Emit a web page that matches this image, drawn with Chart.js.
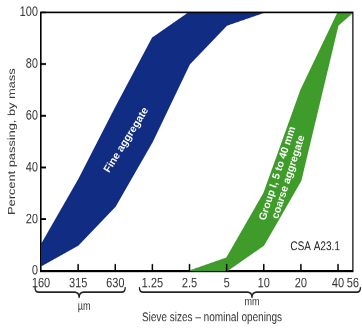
<!DOCTYPE html>
<html>
<head>
<meta charset="utf-8">
<script src="https://cdn.jsdelivr.net/npm/chart.js@4.4.0/dist/chart.umd.min.js"></script>
<style>
  html, body { margin: 0; padding: 0; background: #fff; }
  #page { width: 362px; height: 329px; overflow: hidden; }
  /* the reference picture is stretched vertically, so the chart is drawn flat and scaled */
  #wrap { width: 362px; height: 257px; transform: scaleY(1.28); transform-origin: 0 0; }
</style>
</head>
<body>
<div id="page"><div id="wrap"><canvas id="chart_sieve"></canvas></div></div>
<script>
const STRETCH = 1.28;

// sieve sizes, one step per sieve along x (56 mm is a short half step after 40)
const sieveLabels = ["160", "315", "630", "1.25", "2.5", "5", "10", "20", "40", "56"];
const sieveStep   = [0, 1, 2, 3, 4, 5, 6, 7, 8, 8.4];
const yTicks      = [0, 20, 40, 60, 80, 100];

// fine aggregate band: 160 um .. 10 mm
const fineLower = [2, 10, 25, 50, 80, 95, 100];
const fineUpper = [10, 35, 63, 90, 100, 100, 100];
// coarse aggregate band: 2.5 mm .. 56 mm
const coarseLower = [0, 0, 10, 35, 95, 100];
const coarseUpper = [0, 5, 30, 70, 100, 100];

const FONT = '"Liberation Sans", Arial, sans-serif';
const BLUE = "#112c83";
const GREEN = "#3f9c2b";

function pts(values, start) {
	return values.map((v, i) => ({ x: sieveStep[start + i], y: v }));
}

function band(label, data, color, fill) {
	return {
		label: label,
		data: data,
		borderColor: color,
		backgroundColor: color,
		borderWidth: 1,
		pointRadius: 0,
		tension: 0,
		fill: fill,
	};
}

function drawBrace(ctx, x1, x2, xm, yTop, yMid, yTip) {
	const r = 4;
	ctx.beginPath();
	ctx.moveTo(x1, yTop);
	ctx.quadraticCurveTo(x1, yMid, x1 + r, yMid);
	ctx.lineTo(xm - r, yMid);
	ctx.quadraticCurveTo(xm, yMid, xm, yTip);
	ctx.quadraticCurveTo(xm, yMid, xm + r, yMid);
	ctx.lineTo(x2 - r, yMid);
	ctx.quadraticCurveTo(x2, yMid, x2, yTop);
	ctx.stroke();
}

// rotated label, undoing the page stretch so the letters stay upright on screen
function rotatedText(ctx, lines, x, y, angleDeg, font, color, lineH) {
	ctx.save();
	ctx.translate(x, y);
	ctx.scale(1, 1 / STRETCH);
	ctx.rotate(-angleDeg * Math.PI / 180);
	ctx.font = font;
	ctx.fillStyle = color;
	ctx.textAlign = "center";
	ctx.textBaseline = "middle";
	const off = (lines.length - 1) * lineH / 2;
	lines.forEach((t, i) => ctx.fillText(t, 0, i * lineH - off));
	ctx.restore();
}

const decorations = {
	id: "decorations",
	afterDraw(chart) {
		const ctx = chart.ctx;
		const xs = chart.scales.x;
		const ys = chart.scales.y;
		const a = chart.chartArea;
		const px = v => xs.getPixelForValue(v);
		ctx.save();
		ctx.strokeStyle = "#000";

		// top and right frame
		ctx.lineWidth = 1.2;
		ctx.beginPath();
		ctx.moveTo(a.left, a.top);
		ctx.lineTo(a.right, a.top);
		ctx.lineTo(a.right, a.bottom);
		ctx.stroke();

		// tick marks pointing inward
		ctx.lineWidth = 1.5;
		ctx.beginPath();
		yTicks.forEach(v => {
			const y = ys.getPixelForValue(v);
			ctx.moveTo(a.left, y);
			ctx.lineTo(a.left + 5, y);
		});
		sieveStep.slice(1, 9).forEach(v => {
			const x = px(v);
			ctx.moveTo(x, a.bottom);
			ctx.lineTo(x, a.bottom - 5.5);
		});
		ctx.stroke();

		// braces under the tick labels
		ctx.lineWidth = 1.3;
		ctx.strokeStyle = "#222";
		drawBrace(ctx, px(0) - 6, px(2) + 10, px(1) + 1, 224.2, 228.3, 232.8);
		drawBrace(ctx, px(3) - 13, chart.width - 1.5, 252, 224.2, 228.3, 232.8);

		ctx.fillStyle = "#333";
		ctx.textAlign = "center";
		ctx.textBaseline = "middle";
		ctx.font = "9px " + FONT;
		ctx.fillText("\u00b5m", px(1) + 6, 239.5);
		ctx.fillText("mm", 252, 236);
		ctx.font = "10px " + FONT;
		ctx.fillText("Sieve sizes \u2013 nominal openings", 212, 248.2);

		ctx.font = "10px " + FONT;
		ctx.textAlign = "right";
		ctx.fillStyle = "#222";
		ctx.fillText("CSA A23.1", px(8.05), ys.getPixelForValue(9.3));

		rotatedText(ctx, ["Fine aggregate"], px(2.3), ys.getPixelForValue(50.6),
			58, "bold 10.5px " + FONT, "#fff", 12);
		rotatedText(ctx, ["Group I, 5 to 40 mm", "coarse aggregate"], px(6.52), ys.getPixelForValue(37),
			72, "bold 10.5px " + FONT, "#fff", 11.5);
		ctx.restore();
	},
};

const ctx = document.getElementById("chart_sieve").getContext("2d");

let chart_sieve = new Chart(ctx, {
	type: "line",
	data: {
		datasets: [
			band("Fine lower", pts(fineLower, 0), BLUE, false),
			band("Fine upper", pts(fineUpper, 0), BLUE, "-1"),
			band("Coarse lower", pts(coarseLower, 4), GREEN, false),
			band("Coarse upper", pts(coarseUpper, 4), GREEN, "-1"),
		],
	},
	options: {
		responsive: true,
		maintainAspectRatio: false,
		animation: false,
		devicePixelRatio: 2,
		layout: { padding: { top: 9.4, right: 8, left: 0, bottom: 0 } },
		plugins: {
			legend: { display: false },
			tooltip: { enabled: false },
		},
		scales: {
			x: {
				type: "linear",
				min: 0,
				max: 8.4,
				afterBuildTicks: s => { s.ticks = sieveStep.map(v => ({ value: v })); },
				afterFit: s => { s.height = 45.3; },
				ticks: {
					autoSkip: false,
					maxRotation: 0,
					padding: 3,
					color: "#333",
					font: { family: FONT, size: 11 },
					callback: (v, i) => sieveLabels[i],
				},
				grid: { display: false, drawTicks: false },
				border: { display: true, color: "#000", width: 1.6 },
			},
			y: {
				min: 0,
				max: 100,
				afterBuildTicks: s => { s.ticks = yTicks.map(v => ({ value: v })); },
				afterFit: s => { s.width = 41; },
				ticks: {
					padding: 3,
					color: "#333",
					font: { family: FONT, size: 11 },
				},
				grid: { display: false, drawTicks: false },
				border: { display: true, color: "#000", width: 1.6 },
				title: {
					display: true,
					text: "Percent passing, by mass",
					color: "#333",
					font: { family: FONT, size: 10 },
					padding: { top: 6, bottom: 0 },
				},
			},
		},
	},
	plugins: [decorations],
});
</script>
</body>
</html>
